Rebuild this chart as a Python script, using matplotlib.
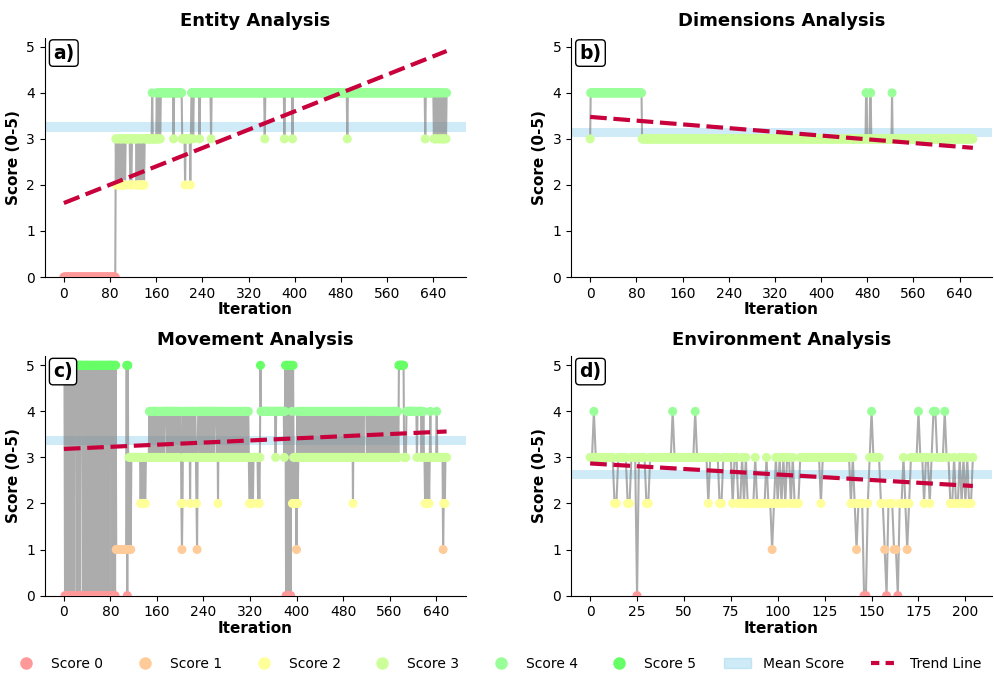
"""Score over iterations for four analysis categories."""
import matplotlib
matplotlib.use("Agg")
import matplotlib.pyplot as plt
from matplotlib.lines import Line2D
from matplotlib.patches import Patch
from matplotlib.ticker import MultipleLocator
import numpy as np

# scores: (score, run length) or a string of single scores
entity_runs = [
    (0, 90), "32323223233232232", (3, 8), (2, 3), (3, 8), "232232323232223",
    (3, 12), "4", (3, 7), "4343433", (4, 22), "3", (4, 14), (3, 5), "2",
    (3, 8), "23", (4, 3), "3", (4, 10), "3", (4, 19), "3", (4, 92), "3",
    (4, 33), "3", (4, 13), "3", (4, 94), "3", (4, 134), "3", (4, 12),
    "4434334443434434343343434",
]

dimensions_runs = [
    "3", (4, 89), (3, 388), "44", (3, 5), "44", (3, 36), "4", (3, 140),
]

movement_runs = [
    "5505505505", "5055055055", "5505505505", "5550550505", "5505505055",
    "0550550550", "5505505505", "5055055055", "5505505505",
    (1, 18), "505", "13131", (3, 16), "2322323223", (3, 5),
    "43434434", "43434344", "34343434", "43444434", "44344434", "44434443",
    "44434442",
    "12", "434443444344", "2", "4344434443", "21",
    "3444344434", "4434443444", "3444344434", "44434",
    "2",
    "4343433434", "3434434343", "4343434343", "3443434334", "4343433434", "443",
    "2232332", (3, 8), "23235", (4, 25), "3", (4, 14), "34",
    "50505050505425", "3232314233", "43434434343",
    "4343433434", "3434434343", "4343434343", "3443434334",
    "4343433434", "3434434343", "4343434343", "3443434334", "4",
    "2",
    "4343433434", "3434434344", "4443434333", "4343433434", "3434434343",
    "4343434343", "3443434334", "43434343",
    (5, 9), (3, 4), (4, 18), "3", (4, 7), "3434332323223234",
    (3, 10), "4", (3, 10), "123", "2", (3, 3),
]

environment_runs = [
    "3343333333", "3332233333", "2233303333", "2233333333", "3333433333",
    "3333334333", "3332333332", "2333332332", "2323222232", "2222322123",
    "2323233232", "2233333333", "3332333333", "3333333332", "3212220023",
    "4333322102", "2211022321", "2333343323", "3234433334", "3322322323",
    "23223",
]

titles = ["Entity Analysis", "Dimensions Analysis", "Movement Analysis",
          "Environment Analysis"]
panel_tags = ["a)", "b)", "c)", "d)"]
score_colors = ["#ff9999", "#ffcc99", "#ffff99", "#ccff99", "#99ff99", "#66ff66"]
trend_color = "#c8003c"


def expand(runs):
    out = []
    for r in runs:
        if isinstance(r, str):
            out.extend(int(c) for c in r)
        else:
            out.extend([r[0]] * r[1])
    return np.array(out)


all_scores = [expand(r) for r in
              (entity_runs, dimensions_runs, movement_runs, environment_runs)]

fig, axes = plt.subplots(2, 2, figsize=(9.94, 6.83), dpi=100)
fig.subplots_adjust(left=0.045, right=0.998, bottom=0.128, top=0.945,
                    wspace=0.25, hspace=0.33)

for i, ax in enumerate(axes.flat):
    y = all_scores[i]
    x = np.arange(len(y))
    mean = y.mean()

    ax.axhspan(mean - 0.1, mean + 0.1, color="skyblue", alpha=0.4, lw=0,
               zorder=1)
    ax.plot(x, y, color="gray", alpha=0.65, lw=1.5, zorder=2)
    ax.scatter(x, y, c=[score_colors[v] for v in y], s=30, zorder=3)

    slope, icept = np.polyfit(x, y, 1)
    ax.plot(x, slope * x + icept, color=trend_color, lw=3, ls="--",
            dashes=(4, 1.6), zorder=4)

    ax.set_ylim(0, 5.2)
    ax.set_yticks(range(6))
    if i < 3:
        ax.xaxis.set_major_locator(MultipleLocator(80))
    ax.set_title(titles[i], fontsize=13, fontweight="bold", pad=8)
    ax.set_xlabel("Iteration", fontsize=11, fontweight="bold", labelpad=1)
    ax.set_ylabel("Score (0-5)", fontsize=11, fontweight="bold")
    ax.tick_params(labelsize=10)
    ax.spines["top"].set_visible(False)
    ax.spines["right"].set_visible(False)
    ax.text(0.02, 0.975, panel_tags[i], transform=ax.transAxes,
            fontsize=13.5, fontweight="bold", va="top", ha="left", zorder=6,
            bbox=dict(boxstyle="round,pad=0.2", fc="white", ec="black"))

handles = [Line2D([], [], marker="o", ls="none", color=score_colors[k],
                  markersize=8, label=f"Score {k}") for k in range(6)]
handles.append(Patch(color="skyblue", alpha=0.4, label="Mean Score"))
handles.append(Line2D([], [], color=trend_color, lw=3, ls="--",
                      dashes=(2, 1.5), label="Trend Line"))
fig.legend(handles=handles, loc="lower left", ncol=8, frameon=False,
           fontsize=10, bbox_to_anchor=(0.0, 0.0, 1.0, 0.05), mode="expand")

fig.savefig("out.png", dpi=100)
